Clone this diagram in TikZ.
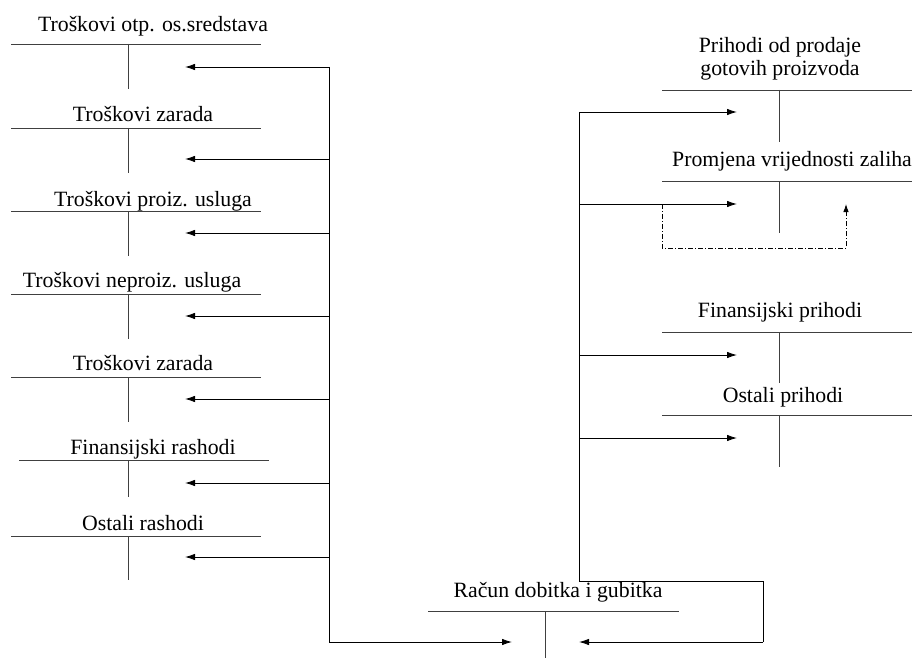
\documentclass[tikz,border=0pt]{standalone}
\usepackage{fontspec}
\setmainfont{Liberation Serif}
\usetikzlibrary{arrows.meta}
\begin{document}
\begin{tikzpicture}[x=1pt,y=-1pt,
  lbl/.style={anchor=base,inner sep=0pt,font=\fontsize{21.8}{23}\selectfont},
  tline/.style={line width=0.9pt,draw=black!75},
  conn/.style={line width=0.9pt,-{Latex[length=10pt,width=6.5pt]}},
  busline/.style={line width=0.9pt},
  ddline/.style={line width=0.9pt,dash pattern=on 5pt off 2pt on 1pt off 2pt,-{Latex[length=8pt,width=5.5pt]}}]
\useasboundingbox (0,0) rectangle (921,658);

% ---------- left T-accounts ----------
\foreach \n/\tx/\bl/\ly/\xa/\xb/\vb/\ay/\txt in {
  1/153/32/44/11/261/89/67/{Troškovi otp. os.sredstava},
  2/143/122/128/11/261/173/159/{Troškovi zarada},
  3/153/206/211/11/261/256/233/{Troškovi proiz. usluga},
  4/132/287/294/11/261/339/316/{Troškovi neproiz. usluga},
  5/143/370/377/11/261/422/399/{Troškovi zarada},
  6/153/454/460/19/269/497/483/{Finansijski rashodi},
  7/143/530/536/11/261/580/557/{Ostali rashodi}}{
  \node[lbl] (L\n) at (\tx,\bl) {\txt};
  \coordinate (La\n) at (\xa,\ly);
  \coordinate (Lb\n) at (\xb,\ly);
  \coordinate (Lt\n) at (128,\ly);
  \coordinate (Lv\n) at (128,\vb);
  \coordinate (Ltip\n) at (185,\ay);
  \coordinate (Lbus\n) at (329,\ay);
  \draw[tline] (La\n) -- (Lb\n);
  \draw[tline] (Lt\n) -- (Lv\n);
  \draw[conn] (Lbus\n) -- (Ltip\n);
}

% ---------- right T-accounts ----------
\node[lbl,anchor=south,align=center] (R1) at (780,80) {Prihodi od prodaje\\gotovih proizvoda};
\node[lbl] (R2) at (792,166) {Promjena vrijednosti zaliha};
\node[lbl] (R3) at (780,317) {Finansijski prihodi};
\node[lbl] (R4) at (783,402) {Ostali prihodi};

\foreach \n/\ly/\vb/\ay in {1/90/142/112, 2/181/233/204, 3/332/383/355, 4/415/467/438}{
  \coordinate (Ra\n) at (662,\ly);
  \coordinate (Rb\n) at (912,\ly);
  \coordinate (Rt\n) at (779,\ly);
  \coordinate (Rv\n) at (779,\vb);
  \coordinate (Rbus\n) at (579,\ay);
  \coordinate (Rtip\n) at (737,\ay);
  \draw[tline] (Ra\n) -- (Rb\n);
  \draw[tline] (Rt\n) -- (Rv\n);
  \draw[conn] (Rbus\n) -- (Rtip\n);
}

% dash-dot loop on stock change
\coordinate (D0) at (662,204);
\coordinate (D1) at (662,248);
\coordinate (D2) at (846,248);
\coordinate (D3) at (846,204);
\draw[ddline] (D0) -- (D1) -- (D2) -- (D3);

% ---------- bottom: income statement ----------
\node[lbl] (RD) at (558,597) {Račun dobitka i gubitka};
\coordinate (RDa) at (428,611);
\coordinate (RDb) at (679,611);
\coordinate (RDt) at (545,611);
\coordinate (RDv) at (545,658);
\draw[tline] (RDa) -- (RDb);
\draw[tline] (RDt) -- (RDv);

% left bus
\coordinate (LB0) at (329,67);
\coordinate (LB1) at (329,642);
\coordinate (LBtip) at (512,642);
\draw[busline] (LB0) -- (LB1);
\draw[conn] (LB1) -- (LBtip);

% right bus
\coordinate (RB0) at (579,112);
\coordinate (RB1) at (579,581);
\coordinate (RB2) at (763,581);
\coordinate (RB3) at (763,642);
\coordinate (RBtip) at (579,642);
\draw[busline] (RB0) -- (RB1) -- (RB2) -- (RB3);
\draw[conn] (RB3) -- (RBtip);
\end{tikzpicture}
\end{document}
